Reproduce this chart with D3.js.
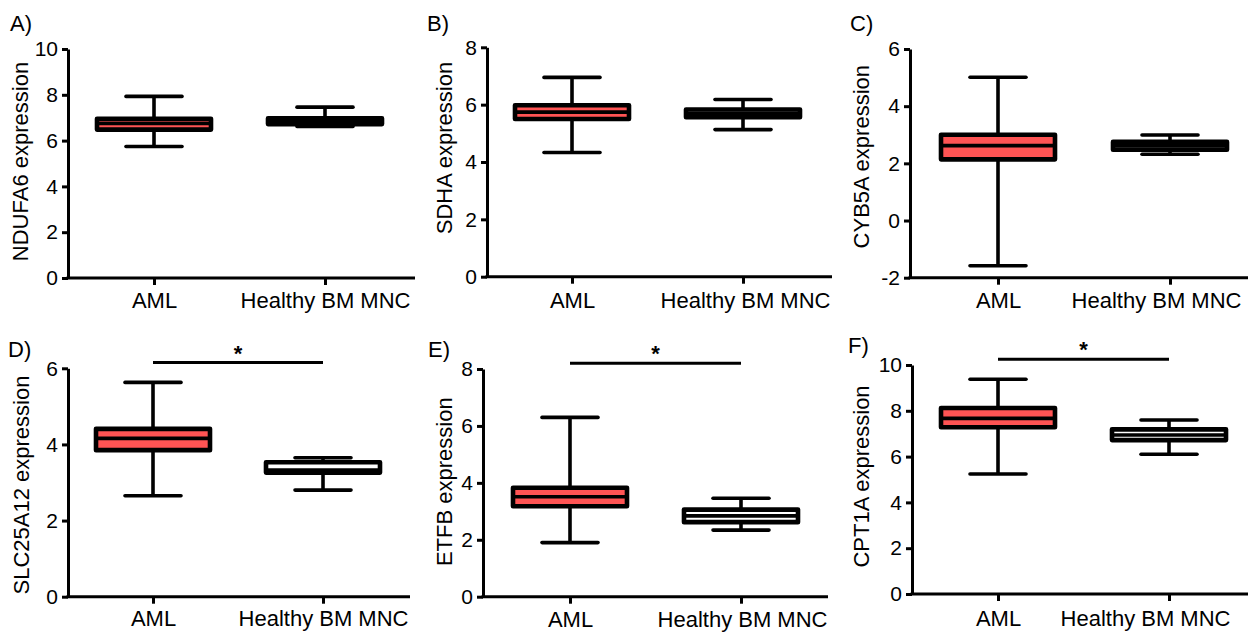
<!DOCTYPE html>
<html><head><meta charset="utf-8">
<script src="https://cdn.jsdelivr.net/npm/d3@7"></script>
<style>
body{margin:0;background:#fff}
svg{display:block}
text{font-family:"Liberation Sans",Arial,sans-serif;fill:#000}
</style>
</head><body>
<svg id="c" width="1248" height="632"></svg>
<script>
// ---------- data ----------
const categories = ["AML", "Healthy BM MNC"];
const panelLetters = ["A)", "B)", "C)", "D)", "E)", "F)"];
const genes = ["NDUFA6", "SDHA", "CYB5A", "SLC25A12", "ETFB", "CPT1A"];
const yDomains = [[0, 10], [0, 8], [-2, 6], [0, 6], [0, 8], [0, 10]];
const yTickValues = [
  [0, 2, 4, 6, 8, 10],
  [0, 2, 4, 6, 8],
  [-2, 0, 2, 4, 6],
  [0, 2, 4, 6],
  [0, 2, 4, 6, 8],
  [0, 2, 4, 6, 8, 10]
];
// [min, q1, median, q3, max]
const amlStats = [
  [5.74, 6.48, 6.75, 6.95, 7.93],
  [4.33, 5.50, 5.74, 5.98, 6.95],
  [-1.58, 2.14, 2.62, 3.00, 5.01],
  [2.65, 3.85, 4.16, 4.41, 5.63],
  [1.90, 3.18, 3.51, 3.83, 6.30],
  [5.24, 7.28, 7.67, 8.12, 9.38]
];
const healthyStats = [
  [6.62, 6.72, 6.87, 6.97, 7.46],
  [5.13, 5.56, 5.70, 5.83, 6.18],
  [2.32, 2.48, 2.62, 2.75, 2.99],
  [2.80, 3.26, 3.33, 3.53, 3.65],
  [2.34, 2.62, 2.84, 3.06, 3.46],
  [6.10, 6.72, 6.94, 7.19, 7.60]
];
const significant = [false, false, false, true, true, true];
const sigLabel = "*";

// ---------- layout ----------
const layout = [
  {ax: 68,  end: 415,  top: 49,  bottom: 278,   c0: 154, c1: 325,  tX: 28,  tY: 161.5, lX: 10,  lY: 31,  lab: 308,   hShift: 0},
  {ax: 487, end: 832,  top: 47.3,bottom: 276.7, c0: 572, c1: 743,  tX: 452, tY: 148,   lX: 427, lY: 31,  lab: 308,   hShift: 2},
  {ax: 910, end: 1248, top: 49,  bottom: 277.7, c0: 998, c1: 1170, tX: 869, tY: 156.7, lX: 850, lY: 31,  lab: 308,   hShift: -14},
  {ax: 68,  end: 410,  top: 368.3,bottom: 596.7,c0: 153, c1: 323,  tX: 29,  tY: 485,   lX: 8,   lY: 357, lab: 626,   hShift: 0},
  {ax: 483, end: 828,  top: 369, bottom: 596.7, c0: 570, c1: 741,  tX: 452, tY: 481.7, lX: 428, lY: 357, lab: 626.5, hShift: 1},
  {ax: 912, end: 1248, top: 365, bottom: 594,   c0: 998, c1: 1169, tX: 869, tY: 476.5, lX: 848, lY: 353, lab: 626,   hShift: -24}
];
const boxW = 114, capW = 56;
const red = "#ff5454";
const FONT = '"Liberation Sans",Arial,sans-serif';

const svg = d3.select("#c");

genes.forEach((gene, i) => {
  const L = layout[i];
  const g = svg.append("g");
  const y = d3.scaleLinear().domain(yDomains[i]).range([L.bottom, L.top]);
  const x = d3.scalePoint().domain(categories).range([L.c0, L.c1]);

  // y axis
  const ya = g.append("g").attr("transform", `translate(${L.ax},0)`)
    .call(d3.axisLeft(y).tickValues(yTickValues[i]).tickSize(6).tickSizeOuter(0).tickPadding(4)
      .tickFormat(d => String(d)));
  ya.select(".domain").attr("stroke", "#000").attr("stroke-width", 3);
  ya.selectAll(".tick line").attr("stroke", "#000").attr("stroke-width", 3);
  ya.selectAll(".tick text").style("font-size", "21px").style("font-family", FONT).attr("fill", "#000");

  // x axis
  const xa = g.append("g").attr("transform", `translate(0,${L.bottom})`)
    .call(d3.axisBottom(x).tickSize(7).tickSizeOuter(0).tickPadding(L.lab - L.bottom - 7 - 15.6));
  xa.select(".domain").remove();
  xa.append("line").attr("x1", L.ax - 1.5).attr("x2", L.end).attr("y1", 0).attr("y2", 0)
    .attr("stroke", "#000").attr("stroke-width", 3);
  xa.selectAll(".tick line").attr("stroke", "#000").attr("stroke-width", 3);
  xa.selectAll(".tick text").style("font-size", "22px").style("font-family", FONT).attr("fill", "#000")
    .attr("dx", (d, k) => k === 1 ? L.hShift : 0);

  // axis title
  g.append("text")
    .attr("transform", `translate(${L.tX},${L.tY}) rotate(-90)`)
    .attr("text-anchor", "middle")
    .style("font-size", "22px")
    .text(gene + " expression");

  // panel letter
  g.append("text").attr("x", L.lX).attr("y", L.lY).style("font-size", "22px").text(panelLetters[i]);

  // boxes
  const stats = [amlStats[i], healthyStats[i]];
  stats.forEach((s, k) => {
    const cx = x(categories[k]);
    const bg = g.append("g");
    // whiskers
    bg.append("line").attr("x1", cx).attr("x2", cx).attr("y1", y(s[4])).attr("y2", y(s[0]))
      .attr("stroke", "#000").attr("stroke-width", 3.6);
    [s[0], s[4]].forEach(v => {
      bg.append("line").attr("x1", cx - capW / 2).attr("x2", cx + capW / 2).attr("y1", y(v)).attr("y2", y(v))
        .attr("stroke", "#000").attr("stroke-width", 3.6).attr("stroke-linecap", "round");
    });
    // box
    bg.append("rect").attr("x", cx - boxW / 2).attr("width", boxW)
      .attr("y", y(s[3])).attr("height", y(s[1]) - y(s[3]))
      .attr("fill", k === 0 ? red : "#fff").attr("stroke", "#000").attr("stroke-width", 4.6)
      .attr("stroke-linejoin", "round");
    // median
    bg.append("line").attr("x1", cx - boxW / 2).attr("x2", cx + boxW / 2).attr("y1", y(s[2])).attr("y2", y(s[2]))
      .attr("stroke", "#000").attr("stroke-width", 3.6);
  });

  // significance
  if (significant[i]) {
    const ly = L.top - 5.7;
    g.append("line").attr("x1", x(categories[0])).attr("x2", x(categories[1])).attr("y1", ly).attr("y2", ly)
      .attr("stroke", "#000").attr("stroke-width", 3);
    g.append("text").attr("x", (x(categories[0]) + x(categories[1])) / 2).attr("y", ly - 2)
      .attr("text-anchor", "middle").style("font-size", "22px").style("font-weight", "bold").text(sigLabel);
  }
});
</script>
</body></html>
